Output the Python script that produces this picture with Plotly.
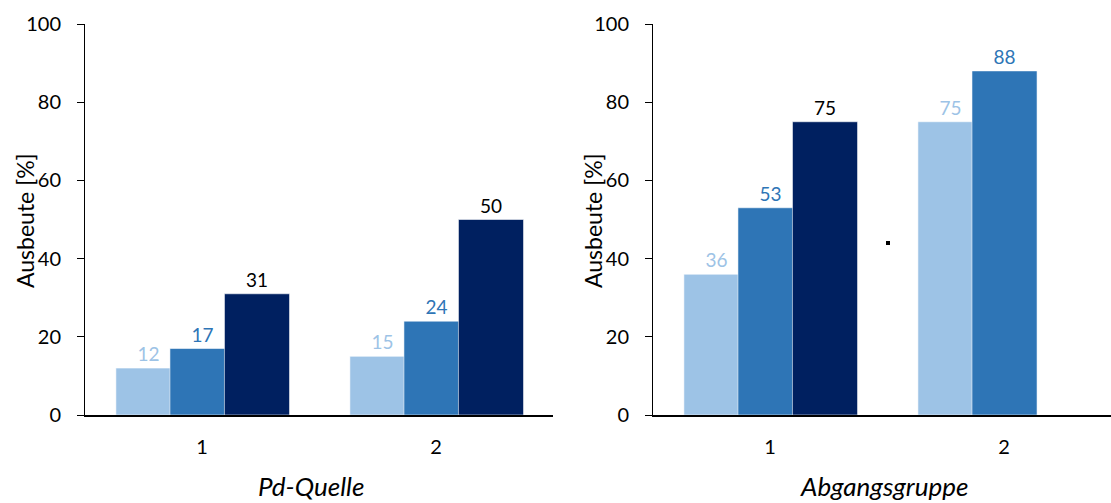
import plotly.graph_objects as go

# Yield data (Ausbeute in %) for two experiment series
categories = ["1", "2"]
pd_light = [12, 15]
pd_medium = [17, 24]
pd_dark = [31, 50]
lg_light = [36, 75]
lg_medium = [53, 88]
lg_dark = [75, None]

y_ticks = [0, 20, 40, 60, 80, 100]

W, H = 1111, 503
FONT = "Lato"
C_LIGHT = "#9DC3E6"
C_MED = "#2E75B6"
C_DARK = "#002060"

# overlapping bars: each bar 0.278 category units wide, stepped by 0.231
BAR_W = 0.278
OFFSETS = [-0.368, -0.137, 0.096]


def px_x(p):
    return p / W


def px_y(p):
    return 1 - p / H


fig = go.Figure()

series = [
    ("x", "y", pd_light, pd_medium, pd_dark),
    ("x2", "y2", lg_light, lg_medium, lg_dark),
]
for xa, ya, light, med, dark in series:
    for vals, color, tcol, off in [
        (light, C_LIGHT, C_LIGHT, OFFSETS[0]),
        (med, C_MED, C_MED, OFFSETS[1]),
        (dark, C_DARK, "#000000", OFFSETS[2]),
    ]:
        fig.add_trace(go.Bar(
            x=categories, y=vals, xaxis=xa, yaxis=ya,
            width=BAR_W, offset=off,
            marker=dict(color=color, line=dict(color="rgba(255,255,255,0.55)", width=1)),
            text=[("" if v is None else str(v)) for v in vals],
            textposition="outside",
            textfont=dict(family=FONT, size=19, color=tcol),
            cliponaxis=False,
            showlegend=False,
            hoverinfo="skip",
        ))

ydom = [px_y(415), px_y(24)]
common_y = dict(
    range=[0, 100], tickvals=y_ticks, ticks="outside", ticklen=7, tickwidth=1,
    tickcolor="#000", showline=True, linecolor="#000", linewidth=1,
    showgrid=False, zeroline=False, automargin=False,
    tickfont=dict(family=FONT, size=20, color="#000"), ticklabelstandoff=12,
    domain=ydom,
)
common_x = dict(
    type="category", ticks="", showline=True, linecolor="#000", linewidth=2,
    showgrid=False, zeroline=False, automargin=False,
    tickfont=dict(family=FONT, size=20, color="#000"), ticklabelstandoff=13,
)

fig.update_layout(
    width=W, height=H,
    margin=dict(l=0, r=0, t=0, b=0),
    paper_bgcolor="white", plot_bgcolor="white",
    barmode="overlay",
    xaxis=dict(common_x, domain=[px_x(85), px_x(553)], range=[-0.5, 1.5], anchor="y"),
    yaxis=dict(common_y, anchor="x"),
    xaxis2=dict(common_x, domain=[px_x(653), 1.0], range=[-0.5, 1.457], anchor="y2"),
    yaxis2=dict(common_y, anchor="x2"),
)

# axis titles
for xc in [25, 593]:
    fig.add_annotation(
        x=px_x(xc), y=px_y(221), xref="paper", yref="paper",
        xanchor="center", yanchor="middle",
        text="Ausbeute [%]", textangle=-90, showarrow=False,
        font=dict(family=FONT, size=23, color="#000"),
    )
for xc, label in [(311, "Pd-Quelle"), (884, "Abgangsgruppe")]:
    fig.add_annotation(
        x=px_x(xc), y=px_y(486), xref="paper", yref="paper",
        xanchor="center", yanchor="middle",
        text=f"<i>{label}</i>", showarrow=False,
        font=dict(family=FONT, size=26, color="#000"),
    )

# small marker dot between the groups of the second panel
fig.add_shape(type="rect", xref="paper", yref="paper",
              x0=px_x(886), x1=px_x(890), y0=px_y(245), y1=px_y(241),
              fillcolor="#000", line=dict(width=0))

fig.write_html("out.html")
